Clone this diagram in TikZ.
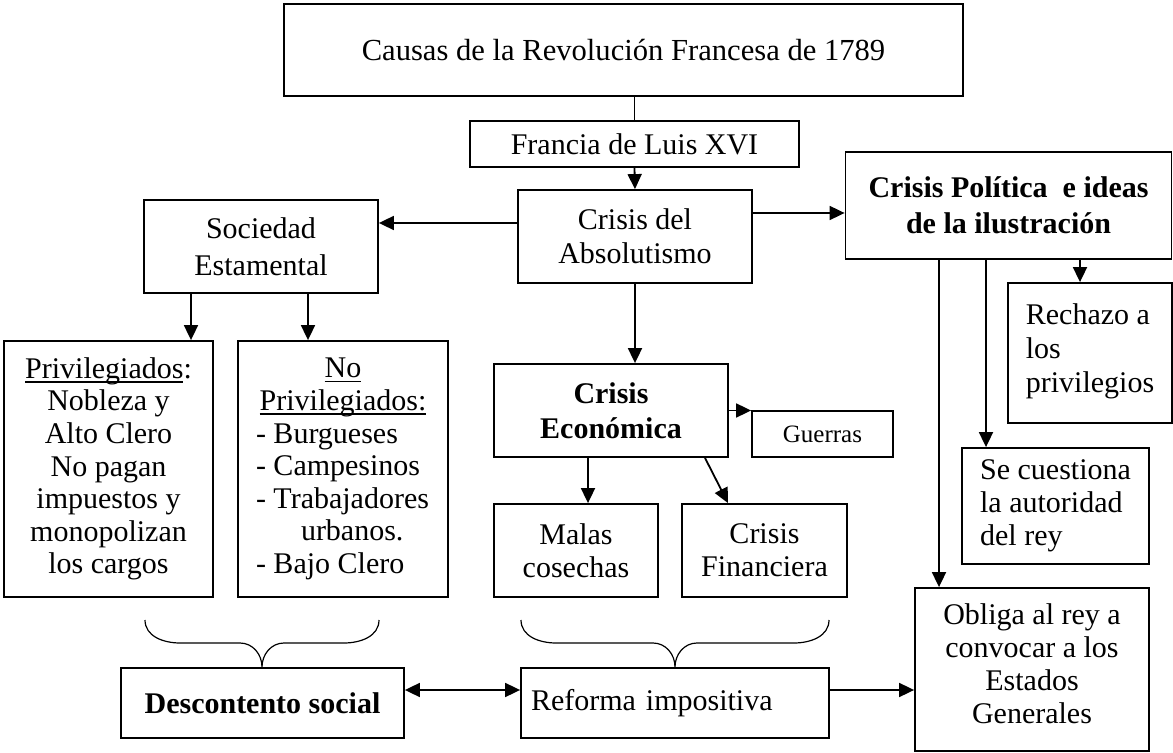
\documentclass[tikz,border=0pt]{standalone}
\usepackage{fontspec}
\setmainfont{Liberation Serif}
\usetikzlibrary{arrows.meta}
\tikzset{>={Triangle[length=7.5pt,width=7pt]}}
\newcommand{\lista}[1]{\makebox[5.8em][l]{#1}}
\newcommand{\subr}[1]{\setbox0\hbox{#1}\rlap{\rule[-2.2pt]{\wd0}{0.7pt}}\box0}

\begin{document}
\begin{tikzpicture}[x=0.5pt,y=-0.5pt,
    caja/.style={draw,line width=0.9pt,align=center,inner sep=2pt,
      font=\fontsize{15pt}{17pt}\selectfont},
    linea/.style={line width=0.9pt}]
  \useasboundingbox (0,0) rectangle (1173,753);
  % columna central
  \node[caja,minimum width=339.5pt,minimum height=46pt,font=\fontsize{15.3pt}{17pt}\selectfont] (causas) at (623.5,50) {Causas de la Revolución Francesa de 1789};
  \node[caja,minimum width=164.5pt,minimum height=23pt] (francia) at (634.5,144) {Francia de Luis XVI};
  \node[caja,minimum width=117pt,minimum height=46.5pt] (absol) at (635,236.5) {Crisis del\\Absolutismo};
  \node[caja,minimum width=117pt,minimum height=46.5pt,font=\bfseries\fontsize{15pt}{17.5pt}\selectfont] (economica) at (611,410.5) {Crisis\\Económica};
  \node[caja,minimum width=70.5pt,minimum height=23pt,font=\fontsize{12.5pt}{15pt}\selectfont] (guerras) at (822.5,434) {Guerras};
  \node[caja,minimum width=82pt,minimum height=46.5pt,font=\fontsize{15pt}{16.5pt}\selectfont] (malas) at (576,550.5) {Malas\\cosechas};
  \node[caja,minimum width=82.5pt,minimum height=46.5pt,font=\fontsize{15pt}{16.5pt}\selectfont] (financiera) at (764.5,550.5) {Crisis\\Financiera};
  % izquierda
  \node[caja,minimum width=117pt,minimum height=46.5pt,font=\fontsize{15pt}{18.5pt}\selectfont] (sociedad) at (261,246.5) {Sociedad\\Estamental};
  \node[caja,minimum width=104.5pt,minimum height=128pt,font=\fontsize{15pt}{16.3pt}\selectfont] (priv) at (108.5,469)
    {\subr{Privilegiados}:\\Nobleza y\\Alto Clero\\No pagan\\impuestos y\\monopolizan\\los cargos};
  \node[caja,minimum width=105pt,minimum height=128pt,font=\fontsize{15pt}{16.3pt}\selectfont] (nopriv) at (343,469)
    {\subr{No}\\\subr{Privilegiados:}\\\lista{- Burgueses}\\\lista{- Campesinos}\\\lista{- Trabajadores}\\\lista{\hspace*{1.5em}urbanos.}\\\lista{- Bajo Clero}};
  % derecha
  \node[caja,minimum width=163pt,minimum height=53.5pt,font=\bfseries\fontsize{15pt}{18pt}\selectfont] (politica) at (1008.5,205.5) {Crisis Política~ e ideas\\de la ilustración};
  \node[caja,align=left,minimum width=82pt,minimum height=70pt] (rechazo) at (1090,353) {Rechazo a\\los\\privilegios\\[-12pt]};
  \node[caja,align=left,minimum width=93.5pt,minimum height=58pt,font=\fontsize{15pt}{16.5pt}\selectfont] (cuestiona) at (1055.5,506) {Se cuestiona\\la autoridad\\del rey};
  \node[caja,minimum width=117pt,minimum height=81.5pt,font=\fontsize{15pt}{16.5pt}\selectfont] (obliga) at (1032,669.5) {Obliga al rey a\\convocar a los\\Estados\\Generales\\[-11pt]};
  % abajo
  \node[caja,minimum width=141.5pt,minimum height=35pt,font=\bfseries\fontsize{15pt}{17pt}\selectfont] (descontento) at (262.5,703) {Descontento social};
  \node[caja,align=left,text width=144pt,inner xsep=5pt,minimum height=35pt] (reforma) at (675,703) {Reforma impositiva};

  % conexiones
  \draw[linea] (francia.north) -- (francia.north |- causas.south);
  \draw[linea,->] (francia.south) -- (absol.north);
  \draw[linea,->] ([yshift=6.75pt]absol.west) -- ([yshift=6.75pt]absol.west -| sociedad.east);
  \draw[linea,->] ([yshift=11.75pt]absol.east) -- ([yshift=11.75pt]absol.east -| politica.west);
  \draw[linea,->] ([xshift=-35pt]sociedad.south) -- ([xshift=-35pt]sociedad.south |- priv.north);
  \draw[linea,->] ([xshift=23.5pt]sociedad.south) -- ([xshift=23.5pt]sociedad.south |- nopriv.north);
  \draw[linea,->] (absol.south) -- (absol.south |- economica.north);
  \draw[linea,->] (economica.east) -- (economica.east -| guerras.west);
  \draw[linea,->] ([xshift=-11.5pt]economica.south) -- ([xshift=-11.5pt]economica.south |- malas.north);
  \draw[linea,->] ([xshift=47pt]economica.south) -- ([xshift=-18.25pt]financiera.north);
  \draw[linea,->] ([xshift=35.75pt]politica.south) -- ([xshift=35.75pt]politica.south |- rechazo.north);
  \draw[linea,->] ([xshift=-11.25pt]politica.south) -- ([xshift=-11.25pt]politica.south |- cuestiona.north);
  \draw[linea,->] ([xshift=-34.75pt]politica.south) -- ([xshift=-34.75pt]politica.south |- obliga.north);
  \draw[linea,<->] ([yshift=6.5pt]descontento.east) -- ([yshift=6.5pt]descontento.east -| reforma.west);
  \draw[linea,->] ([yshift=6.5pt]reforma.east) -- ([yshift=6.5pt]reforma.east -| obliga.west);

  % llaves
  \draw[line width=0.6pt] (145,620) to[out=-90,in=180] (180,643) -- (240,643) to[out=0,in=90] (262,667)
    to[out=90,in=180] (284,643) -- (344,643) to[out=0,in=-90] (379,620);
  \draw[line width=0.6pt] (521,620) to[out=-90,in=180] (556,643) -- (653,643) to[out=0,in=90] (675,667)
    to[out=90,in=180] (697,643) -- (794,643) to[out=0,in=-90] (829,620);
\end{tikzpicture}
\end{document}
